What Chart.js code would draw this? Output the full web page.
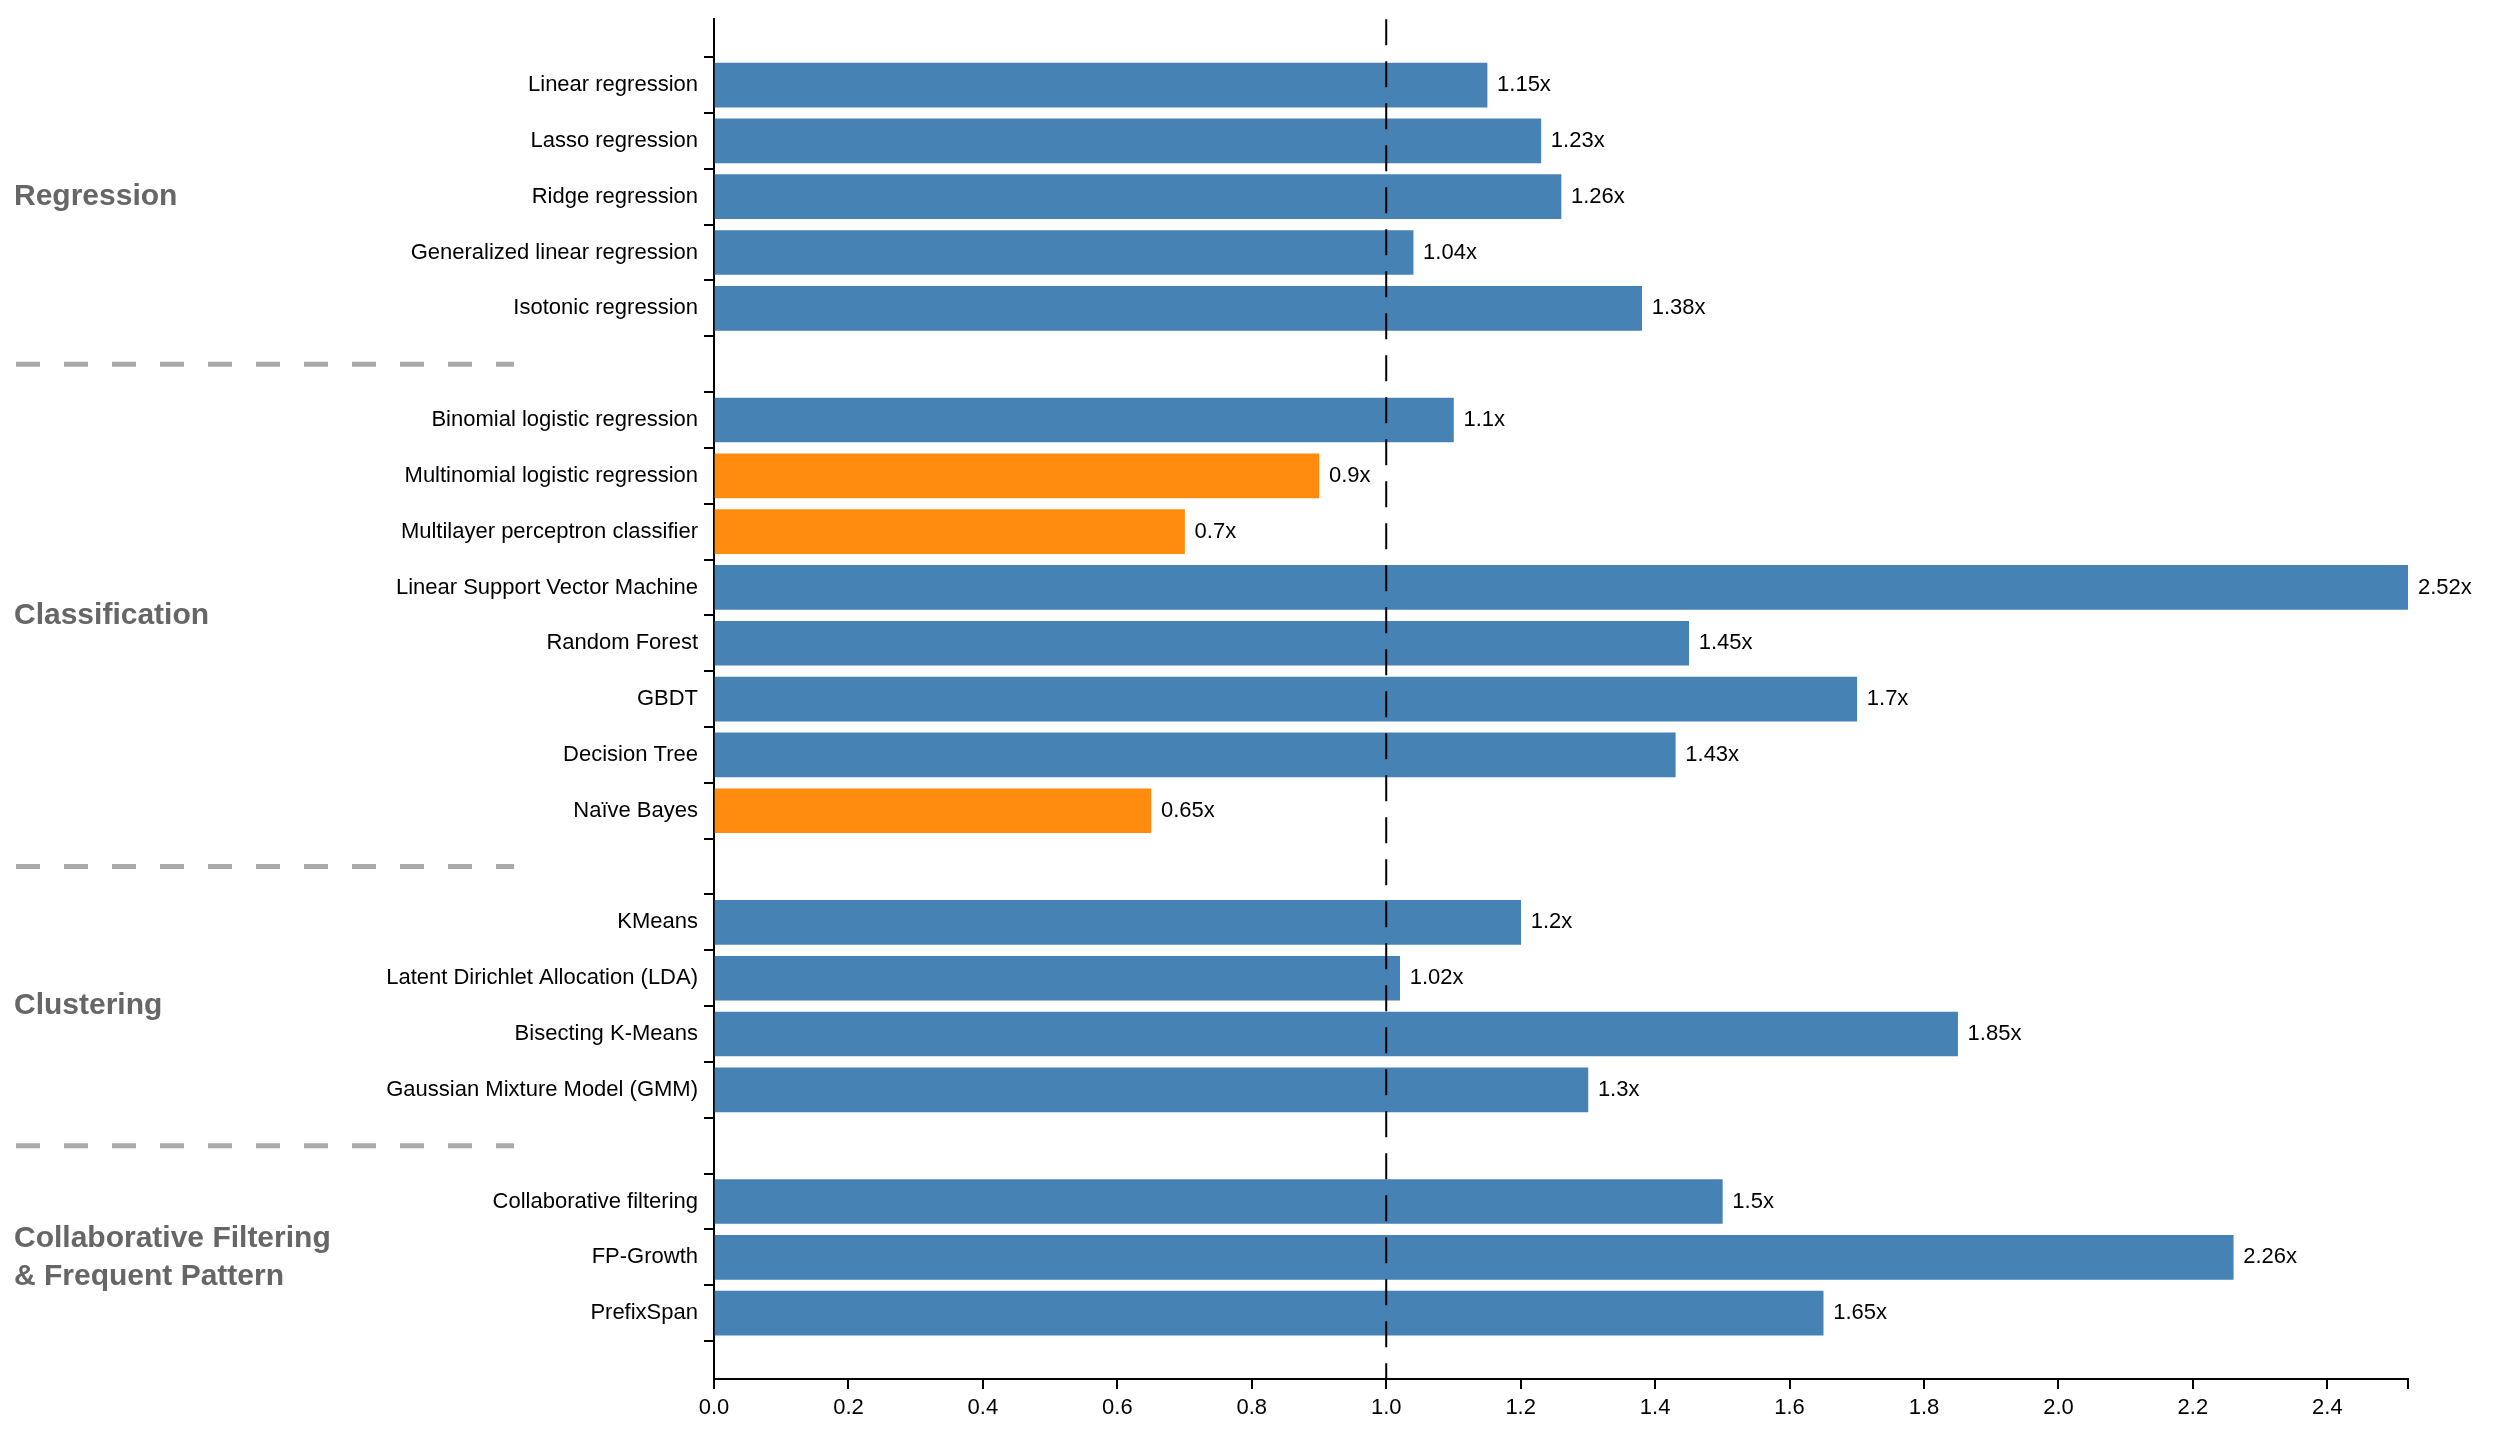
<!DOCTYPE html>
<html><head><meta charset="utf-8">
<script src="https://cdn.jsdelivr.net/npm/chart.js@4/dist/chart.umd.min.js"></script>
<style>html,body{margin:0;padding:0;background:#fff}#wrap{width:2514px;height:1440px}</style>
</head><body><div id="wrap"><canvas id="c"></canvas></div>
<script>
const categories = ["Linear regression","Lasso regression","Ridge regression","Generalized linear regression","Isotonic regression","",
"Binomial logistic regression","Multinomial logistic regression","Multilayer perceptron classifier","Linear Support Vector Machine","Random Forest","GBDT","Decision Tree","Naïve Bayes","",
"KMeans","Latent Dirichlet Allocation (LDA)","Bisecting K-Means","Gaussian Mixture Model (GMM)","",
"Collaborative filtering","FP-Growth","PrefixSpan"];
const speedups = [1.15,1.23,1.26,1.04,1.38,null,1.1,0.9,0.7,2.52,1.45,1.7,1.43,0.65,null,1.2,1.02,1.85,1.3,null,1.5,2.26,1.65];
const xTicks = [0,0.2,0.4,0.6,0.8,1.0,1.2,1.4,1.6,1.8,2.0,2.2,2.4,2.52];
const groups = [{lines:["Regression"],from:0,to:4},{lines:["Classification"],from:6,to:13},{lines:["Clustering"],from:15,to:18},{lines:["Collaborative Filtering","& Frequent Pattern"],from:20,to:22}];
const separators = [5,14,19];
const FONT = "'Liberation Sans', Arial, sans-serif";

const pts = [];
speedups.forEach((v,i)=>{ if(v!==null) pts.push({x:v,y:i}); });

const extras = {
  id:'extras',
  afterDatasetsDraw(chart){
    const ctx=chart.ctx, xs=chart.scales.x, ys=chart.scales.y, a=chart.chartArea;
    ctx.save();
    ctx.font="22px "+FONT; ctx.fillStyle="#000"; ctx.textBaseline="middle"; ctx.textAlign="left";
    pts.forEach(p=>{ ctx.fillText(p.x+"x", xs.getPixelForValue(p.x)+10, ys.getPixelForValue(p.y)); });
    ctx.strokeStyle="#000"; ctx.lineWidth=2; ctx.setLineDash([26,16]);
    const x1=xs.getPixelForValue(1);
    ctx.beginPath(); ctx.moveTo(x1,a.top); ctx.lineTo(x1,a.bottom); ctx.stroke();
    ctx.strokeStyle="#aaa"; ctx.lineWidth=5; ctx.setLineDash([24,24]);
    separators.forEach(s=>{ const y=ys.getPixelForValue(s); ctx.beginPath(); ctx.moveTo(16,y); ctx.lineTo(514,y); ctx.stroke(); });
    ctx.setLineDash([]);
    ctx.font="bold 30px "+FONT; ctx.fillStyle="#666";
    groups.forEach(g=>{
      const yc=ys.getPixelForValue((g.from+g.to)/2), lh=38;
      g.lines.forEach((t,k)=>{ ctx.fillText(t,14,yc+(k-(g.lines.length-1)/2)*lh); });
    });
    ctx.restore();
  }
};

new Chart(document.getElementById('c'),{
  type:'bar',
  data:{datasets:[{data:pts,
    backgroundColor:pts.map(p=>p.x<1?'#ff8c0f':'#4682b4'),
    barThickness:44, borderWidth:0}]},
  options:{
    indexAxis:'y', responsive:true, maintainAspectRatio:false, animation:false,
    layout:{padding:{top:19,right:106,left:0,bottom:0}},
    plugins:{legend:{display:false},tooltip:{enabled:false}},
    scales:{
      x:{type:'linear',min:0,max:2.52,
        afterBuildTicks(s){s.ticks=xTicks.map(v=>({value:v}));},
        afterFit(s){s.height=61;},
        border:{color:'#000',width:2},
        grid:{drawOnChartArea:false,color:'#000',tickLength:10,lineWidth:2},
        ticks:{color:'#000',font:{size:22,family:FONT},padding:6,
          callback:(v)=> v===2.52?'':Number(v).toFixed(1)}},
      y:{type:'linear',min:-0.65,max:22.65,reverse:true,
        afterBuildTicks(s){s.ticks=categories.map((c,i)=>({value:i}));},
        afterFit(s){s.width=714;},
        border:{color:'#000',width:2},
        grid:{drawOnChartArea:false,color:'#000',tickLength:10,lineWidth:2},
        ticks:{color:'#000',font:{size:22,family:FONT},padding:6,autoSkip:false,
          callback:(v)=>categories[v]||''}}
    }
  },
  plugins:[extras]
});
</script></body></html>
